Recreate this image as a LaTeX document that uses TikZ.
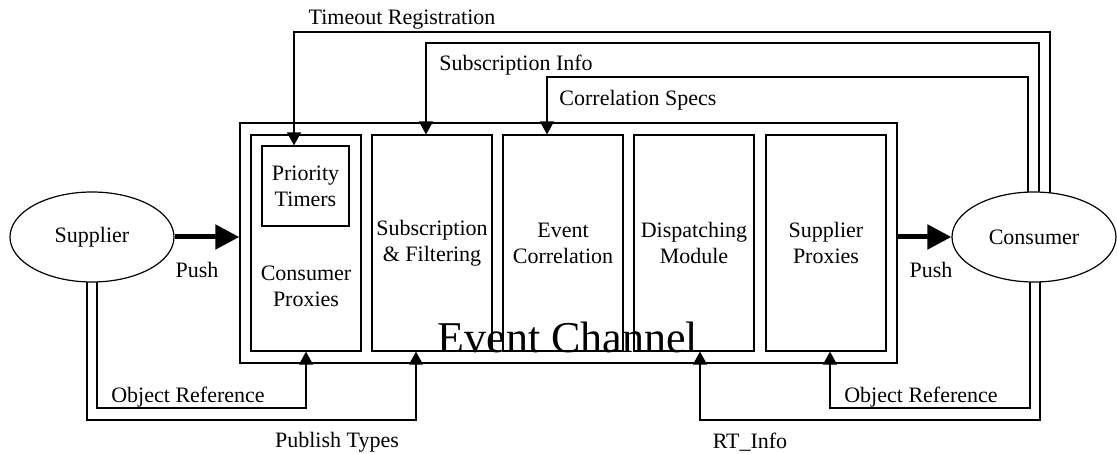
\documentclass[tikz,border=0pt]{standalone}
\usepackage{fontspec}
\setmainfont{Liberation Serif}
\usetikzlibrary{arrows.meta,shapes.geometric,calc}
\pgfdeclarelayer{background}
\pgfsetlayers{background,main}
\begin{document}
\begin{tikzpicture}[x=1pt,y=-1pt,
  txt/.style={inner sep=0pt, font=\fontsize{22}{26}\selectfont, align=center},
  module/.style={draw, txt, line width=1.2pt, minimum width=120pt, minimum height=216pt},
  actor/.style={draw, ellipse, fill=white, line width=1.2pt, minimum width=164pt,
    minimum height=90pt, inner sep=0pt, font=\fontsize{22}{26}\selectfont},
  link/.style={line width=1.4pt, -{Triangle[length=13pt,width=14pt]}},
  push/.style={line width=5pt, -{Triangle[length=24pt,width=24pt]}}
]
\useasboundingbox (0,0) rectangle (1117,454);

% event channel and its modules
\node[draw, line width=1.4pt, minimum width=657pt, minimum height=240pt, inner sep=0pt]
  (ec) at (568.5,243) {};
\node[module, minimum width=110pt] (cp) at (306,243) {};
\node[txt] (cptxt) at (306,286) {Consumer\\Proxies};
\node[draw, txt, line width=1.2pt, minimum width=87pt, minimum height=80pt]
  (pt) at (305.5,186) {Priority\\Timers};
\node[module] (sf) at (432,243) {Subscription\\\& Filtering};
\node[module] (ecor) at (563,243) {Event\\Correlation};
\node[module] (dm) at (694,243) {Dispatching\\Module};
\node[module] (sp) at (826,243) {Supplier\\Proxies};
\node[inner sep=0pt, font=\fontsize{44}{48}\selectfont, anchor=base]
  (ectitle) at (568,353) {Event Channel};

% end points
\node[actor] (sup) at (92,237) {Supplier};
\node[actor] (con) at (1034,237) {Consumer};

% labels
\node[txt] (lpush1) at (197,270) {Push};
\node[txt] (lpush2) at (931,270) {Push};
\node[txt] (ltimeout) at (402,20) {Timeout Registration};
\node[txt] (lsubinfo) at (516,65) {Subscription Info};
\node[txt] (lcorr) at (638,100) {Correlation Specs};
\node[txt] (lobj1) at (188,397) {Object Reference};
\node[txt] (lobj2) at (921,397) {Object Reference};
\node[txt] (lpub) at (337,442) {Publish Types};
\node[txt] (lrt) at (750,442) {RT\_Info};

% arrow end points on the modules
\coordinate (tTime) at ([xshift=-11.5pt]pt.north);
\coordinate (tSub) at ([xshift=-6pt]sf.north);
\coordinate (tCorr) at ([xshift=-16pt]ecor.north);
\coordinate (tObj1) at (cp.south);
\coordinate (tPub) at ([xshift=-16pt]sf.south);
\coordinate (tRT) at ([xshift=6pt]dm.south);
\coordinate (tObj2) at ([xshift=4pt]sp.south);

\begin{pgfonlayer}{background}
  \draw[push] (sup.east) -- (sup.east -| ec.west);
  \draw[push] (con.west -| ec.east) -- (con.west);

  \draw[link] ([xshift=16pt]con.center) -- ++(0,-205) -| (tTime);
  \draw[link] ([xshift=5pt]con.center) -- ++(0,-194) -| (tSub);
  \draw[link] ([xshift=-6pt]con.center) -- ++(0,-160) -| (tCorr);

  \draw[link] ([xshift=5pt]sup.center) -- ++(0,171) -| (tObj1);
  \draw[link] ([xshift=-5pt]sup.center) -- ++(0,183) -| (tPub);
  \draw[link] ([xshift=6pt]con.center) -- ++(0,183) -| (tRT);
  \draw[link] ([xshift=-4pt]con.center) -- ++(0,171) -| (tObj2);
\end{pgfonlayer}
\end{tikzpicture}
\end{document}
